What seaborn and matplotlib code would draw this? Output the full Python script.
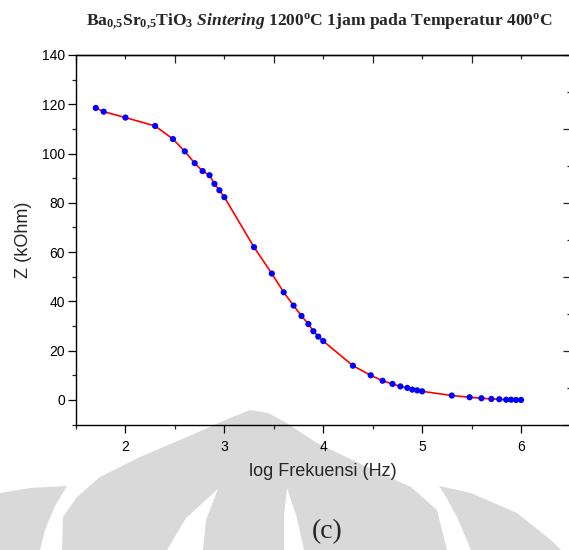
import numpy as np
import pandas as pd
import matplotlib
matplotlib.use("Agg")
import matplotlib.pyplot as plt
from matplotlib.patches import Polygon
import seaborn as sns

# Impedance vs. log frequency, Ba0.5Sr0.5TiO3 sintered 1200 C, measured at 400 C
log_freq = [1.70, 1.78, 2.00, 2.30, 2.48, 2.60, 2.70, 2.78, 2.85, 2.90, 2.95, 3.00,
            3.30, 3.48, 3.60, 3.70, 3.78, 3.85, 3.90, 3.95, 4.00,
            4.30, 4.48, 4.60, 4.70, 4.78, 4.85, 4.90, 4.95, 5.00,
            5.30, 5.48, 5.60, 5.70, 5.78, 5.85, 5.90, 5.95, 6.00]
z_kohm = [118.5, 117.0, 114.6, 111.2, 105.9, 100.9, 96.1, 92.9, 91.2, 87.7, 85.1, 82.3,
          62.0, 51.3, 43.7, 38.3, 34.1, 30.8, 27.9, 25.7, 23.9,
          13.9, 10.0, 7.8, 6.5, 5.5, 4.9, 4.2, 3.9, 3.5,
          1.8, 1.1, 0.7, 0.4, 0.3, 0.1, 0.1, 0.0, 0.0]
x_ticks = [2, 3, 4, 5, 6]
y_ticks = [0, 20, 40, 60, 80, 100, 120, 140]

df = pd.DataFrame({"logf": log_freq, "z": z_kohm})

sns.set_style("ticks")
plt.rcParams["font.family"] = ["Liberation Sans", "DejaVu Sans"]
plt.rcParams["mathtext.fontset"] = "custom"
plt.rcParams["mathtext.rm"] = "Liberation Serif:bold"
plt.rcParams["mathtext.bf"] = "Liberation Serif:bold"
plt.rcParams["mathtext.it"] = "Liberation Serif:italic:bold"

W, H = 569, 550
fig = plt.figure(figsize=(W / 100, H / 100), dpi=100)
fig.patch.set_facecolor("white")

# faint page watermark behind the chart
def px(pts):
    return [(x / W, 1 - y / H) for x, y in pts]

wm = "#d9d9d9"
arch = [(62, 550), (63, 517), (77, 497), (100, 477), (140, 457), (187, 437), (230, 418),
        (250, 410), (268, 413), (285, 422), (317, 443), (367, 467), (411, 487), (437, 510),
        (447, 550)]
left_cut = [(218, 489), (206, 520), (203, 550), (167, 550), (186, 518)]
right_cut = [(287, 488), (297, 518), (304, 550), (284, 550), (284, 515)]
left_wing = [(0, 493), (30, 488), (67, 486), (55, 506), (45, 530), (40, 550), (0, 550)]
right_wing = [(439, 486), (471, 493), (517, 513), (551, 540), (561, 550), (471, 550),
              (457, 517), (446, 497)]
for pts, col in [(arch, wm), (left_cut, "white"), (right_cut, "white"),
                 (left_wing, wm), (right_wing, wm)]:
    fig.patches.append(Polygon(px(pts), closed=True, transform=fig.transFigure,
                               facecolor=col, edgecolor="none", zorder=-10))

ax = fig.add_axes([76 / W, 1 - 424.6 / H, 494.5 / W, 369.6 / H])
ax.set_facecolor("none")
ax.set_zorder(1)

sns.lineplot(data=df, x="logf", y="z", ax=ax, color="#ff0000", linewidth=1.2,
             estimator=None, sort=True, zorder=2)
sns.scatterplot(data=df, x="logf", y="z", ax=ax, color="#0000ff", s=20,
                edgecolor="none", linewidth=0, zorder=3)

ax.set_xlim(1.5, 6.5)
ax.set_ylim(-10, 140)
ax.set_xticks(x_ticks)
ax.set_xticks(np.arange(1.5, 6.6, 1.0), minor=True)
ax.set_yticks(y_ticks)
ax.set_yticks(np.arange(-10, 141, 20), minor=True)

for s in ax.spines.values():
    s.set_linewidth(1.0)
    s.set_color("black")

ax.tick_params(axis="both", which="major", direction="out", length=6, width=0.9,
               labelsize=10, colors="black", pad=2)
ax.tick_params(axis="both", which="minor", direction="out", length=3, width=0.9)
ax.tick_params(axis="x", which="major", pad=5)

# opposite-side frame ticks
top = ax.secondary_xaxis("top")
top.set_xticks(np.arange(1.5, 6.6, 1.0))
top.set_xticks(np.arange(2, 6.1, 1.0), minor=True)
top.tick_params(which="major", direction="in", length=6, width=0.9, labeltop=False)
top.tick_params(which="minor", direction="in", length=3, width=0.9)
top.spines["top"].set_linewidth(1.0)

right = ax.secondary_yaxis("right")
right.set_yticks(np.arange(-10, 141, 30))
right.set_yticks(np.arange(5, 141, 30), minor=True)
right.tick_params(which="major", direction="in", length=6, width=0.9, labelright=False)
right.tick_params(which="minor", direction="in", length=3, width=0.9)

ax.set_xlabel("log Frekuensi (Hz)", fontsize=13)
ax.set_ylabel("Z (kOhm)", fontsize=13)
ax.xaxis.set_label_coords(0.5, (424.6 - 472) / 369.6)
ax.xaxis.label.set_va("center")
ax.yaxis.set_label_coords((23 - 76) / 494.5, 0.5)
ax.yaxis.label.set_va("center")

title = (r"Ba$_{0{,}5}$Sr$_{0{,}5}$TiO$_{3}$ $\mathit{Sintering}$ "
         r"1200$^{\mathrm{o}}$C 1jam pada Temperatur 400$^{\mathrm{o}}$C")
fig.text(319.5 / W, 1 - 21 / H, title, ha="center", va="center", fontsize=12.6,
         fontweight="bold", family=["Liberation Serif", "DejaVu Serif"])

fig.text(327 / W, 1 - 532 / H, "(c)", ha="center", va="center", fontsize=20,
         family=["Liberation Serif", "DejaVu Serif"])

fig.savefig("out.png", dpi=100)
